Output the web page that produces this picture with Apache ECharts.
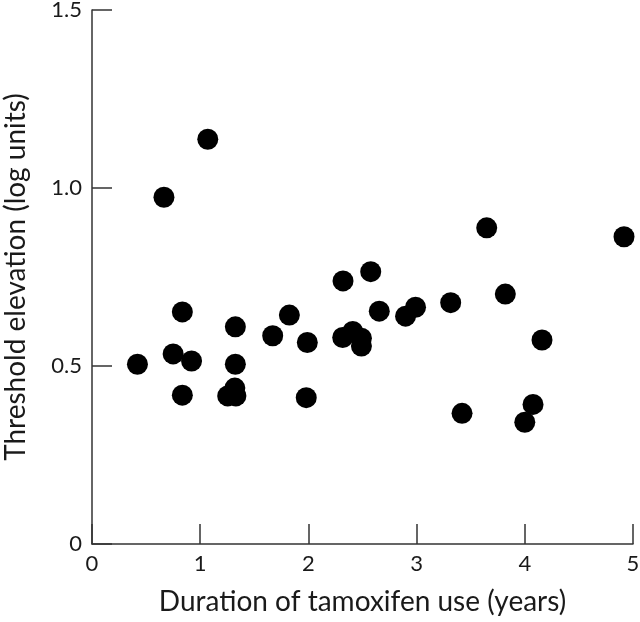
<!DOCTYPE html>
<html>
<head>
<meta charset="utf-8">
<script src="https://cdn.jsdelivr.net/npm/echarts@6/dist/echarts.min.js"></script>
<style>html,body{margin:0;padding:0;background:#fff}#c{width:640px;height:622px}</style>
</head>
<body>
<div id="c"></div>
<script>
const durationYears = [0.42,0.665,0.75,0.835,0.835,0.92,1.07,1.254,1.33,1.32,1.325,1.325,1.67,1.824,1.99,1.98,2.32,2.576,2.317,2.41,2.49,2.49,2.655,2.898,2.99,3.315,3.648,3.82,3.42,4.0,4.076,4.159,4.917];
const thresholdElevation = [0.505,0.974,0.534,0.652,0.418,0.514,1.137,0.416,0.416,0.438,0.505,0.610,0.585,0.643,0.566,0.411,0.739,0.765,0.580,0.597,0.578,0.556,0.654,0.640,0.665,0.678,0.888,0.702,0.367,0.342,0.392,0.573,0.863];
const xTicks = [0,1,2,3,4,5];
const yTicks = [0,0.5,1.0,1.5];
const xTitle = 'Duration of tamoxifen use (years)';
const yTitle = 'Threshold elevation (log units)';

const FONT = 'Lato';
const pts = durationYears.map((x,i)=>[x, thresholdElevation[i]]);
const axisCommon = {
  axisLine:{show:true,lineStyle:{color:'#333',width:1.5}},
  axisTick:{show:true,inside:true,length:20,lineStyle:{color:'#333',width:1.5}},
  splitLine:{show:false},
  nameLocation:'middle',
  nameTextStyle:{fontFamily:FONT,fontSize:28,color:'#1a1a1a'}
};
const chart = echarts.init(document.getElementById('c'),null,{renderer:'canvas'});
chart.setOption({
  animation:false,
  backgroundColor:'#fff',
  grid:{left:92,right:7,top:10,bottom:78,containLabel:false,outerBoundsMode:'none'},
  xAxis:Object.assign({},axisCommon,{
    type:'value',min:xTicks[0],max:xTicks[xTicks.length-1],interval:1,
    name:xTitle,nameGap:44,
    axisLabel:{fontFamily:FONT,fontSize:22,color:'#1a1a1a',margin:9,formatter:v=>String(v)}
  }),
  yAxis:Object.assign({},axisCommon,{
    type:'value',min:yTicks[0],max:yTicks[yTicks.length-1],interval:0.5,
    name:yTitle,nameGap:62,nameRotate:90,
    axisLabel:{fontFamily:FONT,fontSize:22,color:'#1a1a1a',margin:10,formatter:v=>v===0?'0':v.toFixed(1)}
  }),
  series:[{type:'scatter',data:pts,symbol:'circle',symbolSize:21,itemStyle:{color:'#000',opacity:1}}]
});
</script>
</body>
</html>
